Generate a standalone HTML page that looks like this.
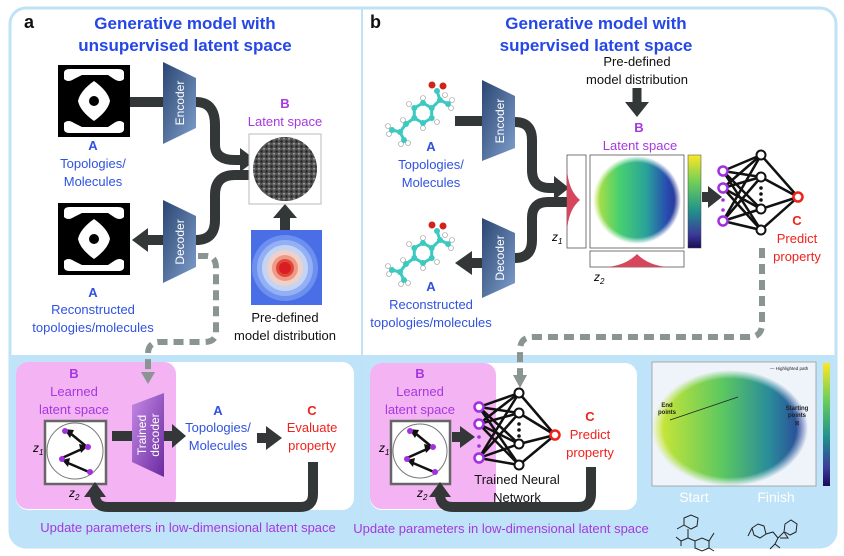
<!DOCTYPE html>
<html><head><meta charset="utf-8"><style>
html,body{margin:0;padding:0;background:#fff;}
svg{display:block;}
text{font-family:"Liberation Sans",sans-serif;}
.t{font-size:13px;text-anchor:middle;}
.ti{font-size:17px;font-weight:bold;fill:#2547e6;text-anchor:middle;}
.bl{fill:#2f52e0;}
.pu{fill:#a538e0;}
.rd{fill:#f0221c;}
.bk{fill:#111;}
</style></head><body>
<svg width="844" height="556" viewBox="0 0 844 556" xmlns="http://www.w3.org/2000/svg">
<defs>
<linearGradient id="enc" x1="0" y1="0" x2="1" y2="1"><stop offset="0" stop-color="#2b4672"/><stop offset="1" stop-color="#7f9fcc"/></linearGradient>
<linearGradient id="tdec" x1="0" y1="0" x2="1" y2="1"><stop offset="0" stop-color="#c58ae6"/><stop offset="1" stop-color="#6a2aa0"/></linearGradient>
<linearGradient id="blob" x1="0" y1="0" x2="1" y2="0"><stop offset="0" stop-color="#c2e23a"/><stop offset="0.3" stop-color="#48d070"/><stop offset="0.6" stop-color="#2aa39a"/><stop offset="0.85" stop-color="#2748b0"/><stop offset="1" stop-color="#30308a"/></linearGradient>
<linearGradient id="cbar" x1="0" y1="0" x2="0" y2="1"><stop offset="0" stop-color="#fde725"/><stop offset="0.3" stop-color="#6cce59"/><stop offset="0.6" stop-color="#21918c"/><stop offset="0.85" stop-color="#3b3c9a"/><stop offset="1" stop-color="#1a0a5a"/></linearGradient>
<linearGradient id="blob2" x1="0" y1="0" x2="1" y2="0"><stop offset="0" stop-color="#d8ea30"/><stop offset="0.45" stop-color="#5cc860"/><stop offset="0.75" stop-color="#2a8c9a"/><stop offset="1" stop-color="#2a3a9a"/></linearGradient>
<radialGradient id="soft"><stop offset="0.85" stop-color="#fff" stop-opacity="1"/><stop offset="1" stop-color="#fff" stop-opacity="0"/></radialGradient>
<mask id="m1"><circle cx="637" cy="200" r="44" fill="url(#soft)"/></mask>
<mask id="m2"><ellipse cx="730" cy="428" rx="78" ry="58" fill="url(#soft)"/></mask>
<pattern id="dots" width="5" height="5" patternUnits="userSpaceOnUse"><rect width="5" height="5" fill="#555"/><circle cx="1.5" cy="1.5" r="1.2" fill="#222"/><circle cx="4" cy="3.8" r="0.8" fill="#bbb"/></pattern>
<g id="topo">
<rect x="0" y="0" width="72" height="72" fill="#000"/>
<path d="M6 8 Q6 4 12 4 L60 4 Q66 4 66 8 L66 14 Q62 18 56 14 L50 10 L24 10 L16 14 Q10 18 6 14 Z" fill="#fff"/>
<path d="M6 64 Q6 68 12 68 L60 68 Q66 68 66 64 L66 58 Q62 54 56 58 L50 62 L24 62 L16 58 Q10 54 6 58 Z" fill="#fff"/>
<path d="M36 16 Q50 26 52 36 Q50 46 36 56 Q22 46 20 36 Q22 26 36 16 Z" fill="#fff"/>
<circle cx="36" cy="36" r="5" fill="#000"/>
</g>
<g id="mol">
<g stroke="#3cc9c0" stroke-width="3" fill="none">
<polygon points="431.7,108 431.7,118 423,123 414.3,118 414.3,108 423,103"/>
<polyline points="431.7,108 440,100 437,91"/><line x1="440" y1="100" x2="448" y2="104"/>
<polyline points="414.3,118 406,124 400,132 392,130"/><line x1="400" y1="132" x2="404" y2="140"/>
</g>
<g fill="#fff" stroke="#999" stroke-width="0.6">
<circle cx="423" cy="98" r="2.5"/><circle cx="437" cy="122" r="2.5"/><circle cx="409" cy="104" r="2.5"/><circle cx="423" cy="128" r="2.5"/>
<circle cx="452" cy="100" r="2.5"/><circle cx="451" cy="108" r="2.5"/><circle cx="445" cy="95" r="2.5"/>
<circle cx="388" cy="126" r="2.5"/><circle cx="389" cy="134" r="2.5"/><circle cx="401" cy="144" r="2.5"/><circle cx="408" cy="143" r="2.5"/><circle cx="403" cy="120" r="2.5"/>
</g>
<g fill="#3cc9c0"><circle cx="431.7" cy="108" r="3"/><circle cx="431.7" cy="118" r="3"/><circle cx="423" cy="123" r="3"/><circle cx="414.3" cy="118" r="3"/><circle cx="414.3" cy="108" r="3"/><circle cx="423" cy="103" r="3"/><circle cx="440" cy="100" r="3"/><circle cx="448" cy="104" r="3"/><circle cx="406" cy="124" r="3"/><circle cx="400" cy="132" r="3"/><circle cx="392" cy="130" r="3"/><circle cx="404" cy="140" r="3"/><circle cx="437" cy="91" r="3"/></g>
<circle cx="432" cy="85" r="3.5" fill="#d0231c"/><circle cx="443" cy="86" r="3.5" fill="#d0231c"/>
</g>
</defs>

<!-- frame -->
<rect x="10" y="8" width="826" height="539" rx="16" fill="#fff" stroke="#bfe2f6" stroke-width="3"/>
<path d="M10 355 L836 355 L836 531 Q836 547 820 547 L26 547 Q10 547 10 531 Z" fill="#bfe3f8"/>
<line x1="362" y1="8" x2="362" y2="547" stroke="#bfe2f6" stroke-width="2"/>

<!-- bottom boxes -->
<rect x="16" y="362" width="338" height="148" rx="12" fill="#fff"/>
<rect x="16" y="362" width="160" height="147" rx="12" fill="#f4b3f2"/>
<rect x="370" y="363" width="267" height="147" rx="12" fill="#fff"/>
<rect x="370" y="363" width="126" height="146" rx="12" fill="#f4b3f2"/>

<!-- ===== Panel a ===== -->
<text x="24" y="28" font-size="18" font-weight="bold" class="bk">a</text>
<text x="185" y="29" class="ti">Generative model with</text>
<text x="185" y="51" class="ti">unsupervised latent space</text>

<use href="#topo" x="58" y="65"/>
<use href="#topo" x="58" y="203"/>

<!-- arrows a -->
<g stroke="#333738" stroke-width="10" fill="none">
<line x1="130" y1="102" x2="164" y2="102"/>
<path d="M196 102 Q215 102 215 125 L215 145 Q215 160 235 160 L242 160"/>
<path d="M196 240 Q215 240 215 220 L215 195 Q215 175 235 175 L250 175"/>
<line x1="148" y1="240" x2="164" y2="240"/>
<line x1="285" y1="230" x2="285" y2="218"/>
</g>
<polygon points="240,148 256,160 240,172" fill="#333738"/>
<polygon points="148,228 132,240 148,252" fill="#333738"/>
<polygon points="273,218 285,204 297,218" fill="#333738"/>

<polygon points="163,62 196,78 196,128 163,144" fill="url(#enc)"/>
<text transform="translate(184,103) rotate(-90)" font-size="12" fill="#fff" text-anchor="middle">Encoder</text>
<polygon points="163,200 196,216 196,267 163,283" fill="url(#enc)"/>
<text transform="translate(184,242) rotate(-90)" font-size="12" fill="#fff" text-anchor="middle">Decoder</text>

<rect x="249" y="134" width="72" height="70" fill="#fff" stroke="#bbb" stroke-width="1"/>
<circle cx="285" cy="169" r="32" fill="url(#dots)"/>
<text x="285" y="108" class="t pu" font-weight="bold">B</text>
<text x="285" y="126" class="t pu">Latent space</text>

<rect x="251" y="230" width="71" height="75" fill="#4a6ee6"/>
<circle cx="285" cy="268" r="33" fill="#6d8ff0"/><circle cx="285" cy="268" r="28" fill="#93b0f4"/><circle cx="285" cy="268" r="23" fill="#c4d4f4"/><circle cx="285" cy="268" r="18" fill="#f0d0c8"/><circle cx="285" cy="268" r="13" fill="#ee9a88"/><circle cx="285" cy="268" r="9" fill="#e24636"/><circle cx="285" cy="268" r="6" fill="#d81e22"/>
<text x="285" y="322" class="t bk">Pre-defined</text>
<text x="285" y="340" class="t bk">model distribution</text>

<text x="93" y="150" class="t bl" font-weight="bold">A</text>
<text x="93" y="168" class="t bl">Topologies/</text>
<text x="93" y="186" class="t bl">Molecules</text>
<text x="93" y="297" class="t bl" font-weight="bold">A</text>
<text x="93" y="314" class="t bl">Reconstructed</text>
<text x="93" y="332" class="t bl">topologies/molecules</text>

<!-- dashed a -->
<path d="M198 256 L206 256 Q216 256 216 268 L216 332 Q216 342 204 342 L160 342 Q148 342 148 354 L148 374" stroke="#8a9490" stroke-width="6" fill="none" stroke-dasharray="10 6"/>
<polygon points="141,372 155,372 148,384" fill="#8a9490"/>

<!-- bottom a -->
<text x="74" y="378" class="t pu" font-weight="bold">B</text>
<text x="74" y="396" class="t pu">Learned</text>
<text x="74" y="414" class="t pu">latent space</text>
<rect x="45" y="421" width="61" height="63" fill="#fff" stroke="#666" stroke-width="2.5"/>
<circle cx="75" cy="451" r="28" fill="none" stroke="#777" stroke-width="1"/>
<g stroke="#111" stroke-width="2.5"><line x1="87" y1="447" x2="70" y2="433"/><line x1="62" y1="458" x2="82" y2="449"/><line x1="89" y1="472" x2="68" y2="463"/></g>
<g fill="#111"><polygon points="64,429 74,430 70,438"/><polygon points="88,446 79,444 81,453"/><polygon points="62,460 70,458 68,467"/></g>
<g fill="#a030e0"><circle cx="65" cy="431" r="3"/><circle cx="88" cy="447" r="3"/><circle cx="62" cy="459" r="3"/><circle cx="90" cy="472" r="3"/></g>
<text x="33" y="452" font-size="12" font-style="italic" font-family="Liberation Serif">z<tspan font-size="8" dy="3">1</tspan></text>
<text x="69" y="497" font-size="12" font-style="italic" font-family="Liberation Serif">z<tspan font-size="8" dy="3">2</tspan></text>

<g stroke="#333738" stroke-width="10" fill="none"><line x1="112" y1="436" x2="132" y2="436"/><line x1="164" y1="436" x2="174" y2="436"/><line x1="257" y1="438" x2="268" y2="438"/></g>
<polygon points="172,424 186,436 172,448" fill="#333738"/>
<polygon points="266,426 282,438 266,450" fill="#333738"/>
<polygon points="132,405 164,393 164,477 132,462" fill="url(#tdec)"/>
<text transform="translate(146,435) rotate(-90)" font-size="12" fill="#fff" text-anchor="middle">Trained</text>
<text transform="translate(159,435) rotate(-90)" font-size="12" fill="#fff" text-anchor="middle">decoder</text>
<text x="218" y="415" class="t bl" font-weight="bold">A</text>
<text x="218" y="432" class="t bl">Topologies/</text>
<text x="218" y="450" class="t bl">Molecules</text>
<text x="312" y="415" class="t rd" font-weight="bold">C</text>
<text x="312" y="432" class="t rd">Evaluate</text>
<text x="312" y="450" class="t rd">property</text>
<path d="M313 462 L313 494 Q313 507 300 507 L108 507 Q95 507 95 494 L95 496" stroke="#333738" stroke-width="10" fill="none"/>
<polygon points="84,497 95,482 106,497" fill="#333738"/>
<text x="188" y="532" class="t pu">Update parameters in low-dimensional latent space</text>

<!-- ===== Panel b ===== -->
<text x="370" y="28" font-size="18" font-weight="bold" class="bk">b</text>
<text x="596" y="29" class="ti">Generative model with</text>
<text x="596" y="51" class="ti">supervised latent space</text>
<text x="637" y="66" class="t bk">Pre-defined</text>
<text x="637" y="84" class="t bk">model distribution</text>
<line x1="637" y1="88" x2="637" y2="104" stroke="#333738" stroke-width="9"/>
<polygon points="625,102 649,102 637,117" fill="#333738"/>
<text x="639" y="132" class="t pu" font-weight="bold">B</text>
<text x="640" y="150" class="t pu">Latent space</text>

<use href="#mol"/>
<use href="#mol" y="140"/>
<text x="431" y="151" class="t bl" font-weight="bold">A</text>
<text x="431" y="169" class="t bl">Topologies/</text>
<text x="431" y="187" class="t bl">Molecules</text>
<text x="431" y="291" class="t bl" font-weight="bold">A</text>
<text x="431" y="309" class="t bl">Reconstructed</text>
<text x="431" y="327" class="t bl">topologies/molecules</text>

<g stroke="#333738" stroke-width="10" fill="none">
<line x1="455" y1="121" x2="483" y2="121"/>
<path d="M515 122 Q532 122 532 140 L532 170 Q532 188 550 188 L556 188"/>
<path d="M515 258 Q532 258 532 240 L532 218 Q532 202 548 202 L568 202"/>
<line x1="470" y1="263" x2="483" y2="263"/>
<line x1="702" y1="197" x2="710" y2="197"/>
</g>
<polygon points="554,176 569,188 554,200" fill="#333738"/>
<polygon points="472,251 455,263 472,275" fill="#333738"/>
<polygon points="708,186 722,197 708,208" fill="#333738"/>
<polygon points="482,80 515,96 515,148 482,161" fill="url(#enc)"/>
<text transform="translate(504,121) rotate(-90)" font-size="12" fill="#fff" text-anchor="middle">Encoder</text>
<polygon points="482,218 515,233 515,283 482,298" fill="url(#enc)"/>
<text transform="translate(504,258) rotate(-90)" font-size="12" fill="#fff" text-anchor="middle">Decoder</text>

<rect x="567" y="155" width="19" height="93" fill="#fff" stroke="#555" stroke-width="0.8"/>
<path d="M567 168 Q568 190 580 200 Q568 210 567 232 Z" fill="#d8465e"/>
<rect x="590" y="155" width="94" height="93" fill="#fff" stroke="#555" stroke-width="0.8"/>
<circle cx="637" cy="200" r="44" fill="url(#blob)" mask="url(#m1)"/>
<rect x="688" y="155" width="13" height="93" fill="url(#cbar)" stroke="#444" stroke-width="0.5"/>
<rect x="590" y="251" width="94" height="16" fill="#fff" stroke="#555" stroke-width="0.8"/>
<path d="M605 267 Q625 266 637 254 Q649 266 669 267 Z" fill="#d8465e"/>
<text x="552" y="241" font-size="12" font-style="italic" font-family="Liberation Serif">z<tspan font-size="8" dy="3">1</tspan></text>
<text x="594" y="281" font-size="12" font-style="italic" font-family="Liberation Serif">z<tspan font-size="8" dy="3">2</tspan></text>

<!-- NN top -->
<g stroke="#111" stroke-width="2.5">
<line x1="723" y1="171" x2="761" y2="155"/><line x1="723" y1="171" x2="761" y2="177"/><line x1="723" y1="171" x2="761" y2="209"/><line x1="723" y1="171" x2="761" y2="230"/>
<line x1="723" y1="188" x2="761" y2="155"/><line x1="723" y1="188" x2="761" y2="177"/><line x1="723" y1="188" x2="761" y2="209"/><line x1="723" y1="188" x2="761" y2="230"/>
<line x1="723" y1="221" x2="761" y2="155"/><line x1="723" y1="221" x2="761" y2="177"/><line x1="723" y1="221" x2="761" y2="209"/><line x1="723" y1="221" x2="761" y2="230"/>
<line x1="761" y1="155" x2="798" y2="197"/><line x1="761" y1="177" x2="798" y2="197"/><line x1="761" y1="209" x2="798" y2="197"/><line x1="761" y1="230" x2="798" y2="197"/>
</g>
<g fill="#fff" stroke="#111" stroke-width="2"><circle cx="761" cy="155" r="4.5"/><circle cx="761" cy="177" r="4.5"/><circle cx="761" cy="209" r="4.5"/><circle cx="761" cy="230" r="4.5"/></g>
<g fill="#111"><circle cx="761" cy="188" r="1.8"/><circle cx="761" cy="194" r="1.8"/><circle cx="761" cy="200" r="1.8"/></g>
<g fill="#fff" stroke="#a030e0" stroke-width="2.5"><circle cx="723" cy="171" r="4.5"/><circle cx="723" cy="188" r="4.5"/><circle cx="723" cy="221" r="4.5"/></g>
<g fill="#a030e0"><circle cx="723" cy="200" r="1.8"/><circle cx="723" cy="210" r="1.8"/></g>
<circle cx="798" cy="197" r="4.5" fill="#fff" stroke="#f0221c" stroke-width="2.5"/>
<text x="797" y="225" class="t rd" font-weight="bold">C</text>
<text x="797" y="243" class="t rd">Predict</text>
<text x="797" y="261" class="t rd">property</text>

<!-- dashed b -->
<path d="M762 248 L762 324 Q762 337 749 337 L533 337 Q520 337 520 350 L520 376" stroke="#8a9490" stroke-width="6" fill="none" stroke-dasharray="10 6"/>
<polygon points="513,375 527,375 520,388" fill="#8a9490"/>

<!-- bottom b -->
<text x="420" y="378" class="t pu" font-weight="bold">B</text>
<text x="420" y="396" class="t pu">Learned</text>
<text x="420" y="414" class="t pu">latent space</text>
<rect x="391" y="421" width="59" height="63" fill="#fff" stroke="#666" stroke-width="2.5"/>
<circle cx="420" cy="451" r="27" fill="none" stroke="#777" stroke-width="1"/>
<g stroke="#111" stroke-width="2.5"><line x1="432" y1="447" x2="415" y2="433"/><line x1="407" y1="458" x2="427" y2="449"/><line x1="434" y1="472" x2="413" y2="463"/></g>
<g fill="#111"><polygon points="409,429 419,430 415,438"/><polygon points="433,446 424,444 426,453"/><polygon points="407,460 415,458 413,467"/></g>
<g fill="#a030e0"><circle cx="410" cy="431" r="3"/><circle cx="433" cy="447" r="3"/><circle cx="407" cy="459" r="3"/><circle cx="435" cy="472" r="3"/></g>
<text x="379" y="452" font-size="12" font-style="italic" font-family="Liberation Serif">z<tspan font-size="8" dy="3">1</tspan></text>
<text x="417" y="497" font-size="12" font-style="italic" font-family="Liberation Serif">z<tspan font-size="8" dy="3">2</tspan></text>
<line x1="452" y1="437" x2="462" y2="437" stroke="#333738" stroke-width="10"/>
<polygon points="460,426 475,437 460,448" fill="#333738"/>

<g stroke="#111" stroke-width="2.5">
<line x1="479" y1="407" x2="519" y2="393"/><line x1="479" y1="407" x2="519" y2="413"/><line x1="479" y1="407" x2="519" y2="444"/><line x1="479" y1="407" x2="519" y2="465"/>
<line x1="479" y1="424" x2="519" y2="393"/><line x1="479" y1="424" x2="519" y2="413"/><line x1="479" y1="424" x2="519" y2="444"/><line x1="479" y1="424" x2="519" y2="465"/>
<line x1="479" y1="458" x2="519" y2="393"/><line x1="479" y1="458" x2="519" y2="413"/><line x1="479" y1="458" x2="519" y2="444"/><line x1="479" y1="458" x2="519" y2="465"/>
<line x1="519" y1="393" x2="555" y2="435"/><line x1="519" y1="413" x2="555" y2="435"/><line x1="519" y1="444" x2="555" y2="435"/><line x1="519" y1="465" x2="555" y2="435"/>
</g>
<g fill="#fff" stroke="#111" stroke-width="2"><circle cx="519" cy="393" r="4.5"/><circle cx="519" cy="413" r="4.5"/><circle cx="519" cy="444" r="4.5"/><circle cx="519" cy="465" r="4.5"/></g>
<g fill="#111"><circle cx="519" cy="424" r="1.8"/><circle cx="519" cy="430" r="1.8"/><circle cx="519" cy="436" r="1.8"/></g>
<g fill="#fff" stroke="#a030e0" stroke-width="2.5"><circle cx="479" cy="407" r="4.5"/><circle cx="479" cy="424" r="4.5"/><circle cx="479" cy="458" r="4.5"/></g>
<g fill="#a030e0"><circle cx="479" cy="437" r="1.8"/><circle cx="479" cy="446" r="1.8"/></g>
<circle cx="555" cy="435" r="4.5" fill="#fff" stroke="#f0221c" stroke-width="2.5"/>
<text x="517" y="484" class="t bk">Trained Neural</text>
<text x="517" y="502" class="t bk">Network</text>
<text x="590" y="421" class="t rd" font-weight="bold">C</text>
<text x="590" y="439" class="t rd">Predict</text>
<text x="590" y="457" class="t rd">property</text>
<path d="M591 467 L591 494 Q591 507 578 507 L453 507 Q440 507 440 494 L440 496" stroke="#333738" stroke-width="10" fill="none"/>
<polygon points="429,497 440,482 451,497" fill="#333738"/>
<text x="501" y="533" class="t pu">Update parameters in low-dimensional latent space</text>

<!-- bottom right plot -->
<rect x="652" y="362" width="164" height="124" fill="#eef4fa" stroke="#999" stroke-width="0.8"/>
<ellipse cx="730" cy="428" rx="78" ry="58" fill="url(#blob2)" mask="url(#m2)"/>
<line x1="670" y1="420" x2="738" y2="397" stroke="#222" stroke-width="0.8"/>
<text x="770" y="370" font-size="4.5" fill="#222">— Highlighted path</text>
<text x="667" y="407" font-size="6" font-weight="bold" fill="#222" text-anchor="middle">End</text>
<text x="667" y="414" font-size="6" font-weight="bold" fill="#222" text-anchor="middle">points</text>
<text x="797" y="410" font-size="6" font-weight="bold" fill="#222" text-anchor="middle">Starting</text>
<text x="797" y="417" font-size="6" font-weight="bold" fill="#222" text-anchor="middle">points</text>
<text x="797" y="425" font-size="6" fill="#222" text-anchor="middle">⊠</text>
<rect x="823" y="363" width="7" height="123" fill="url(#cbar)"/>
<text x="694" y="502" font-size="14" fill="#fff" text-anchor="middle">Start</text>
<text x="776" y="502" font-size="14" fill="#fff" text-anchor="middle">Finish</text>
<g stroke="#222" stroke-width="1" fill="none">
<polyline points="677,529 684,525 684,518 691,515 698,518 697,526 691,529 684,525"/>
<line x1="688" y1="529" x2="688" y2="538"/><polyline points="688,538 681,541 676,537"/><line x1="681" y1="541" x2="681" y2="546"/>
<polyline points="688,538 695,541 702,538 709,541 709,548 702,551 695,548 695,541"/>
<line x1="709" y1="541" x2="714" y2="533"/><line x1="709" y1="548" x2="714" y2="551"/>
<polyline points="752,528 758,524 764,526 766,534 760,538 754,535 752,528"/><line x1="752" y1="528" x2="748" y2="536"/>
<polyline points="766,534 773,532 778,538 775,544 780,548"/><line x1="775" y1="544" x2="770" y2="549"/>
<polyline points="778,538 784,532 788,538 780,538"/><polyline points="784,532 785,524 791,520 797,524 796,532 790,535 785,532"/>
</g>
</svg>
</body></html>
